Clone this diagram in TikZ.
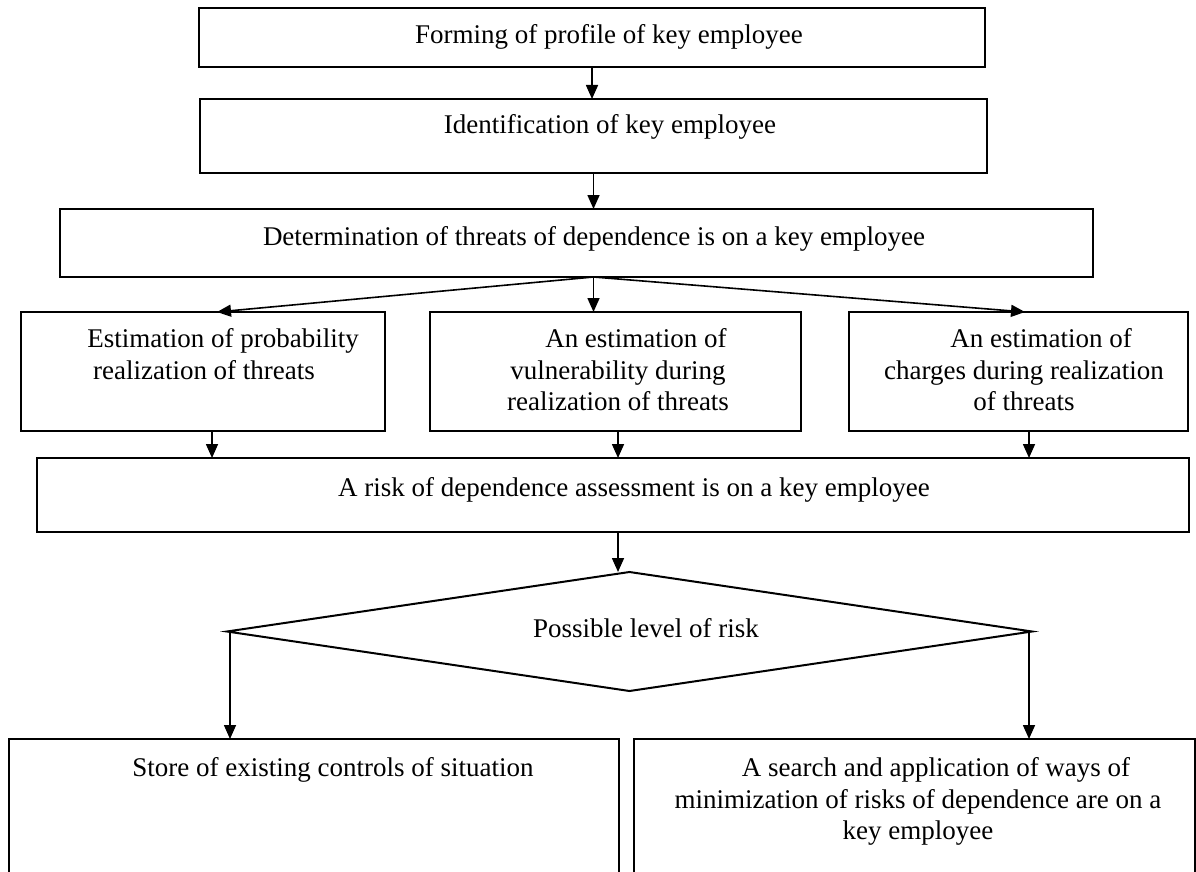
\documentclass[tikz,border=0pt]{standalone}
\usepackage{fontspec}
\setmainfont{Liberation Serif}
\usetikzlibrary{shapes.geometric,arrows.meta}
\tikzset{
  box/.style={draw=black, line width=2pt, rectangle, inner sep=0pt, outer sep=0pt},
  decide/.style={draw=black, line width=2pt, diamond, inner sep=0pt, outer sep=0pt},
  lbl/.style={inner sep=0pt, anchor=north, align=center, font=\fontsize{27}{31.5}\selectfont},
  arr/.style={line width=1.6pt, -{Triangle[length=14pt,width=12pt]}}
}
\begin{document}
\begin{tikzpicture}[x=1pt,y=-1pt]
\useasboundingbox (0,0) rectangle (1196,872);
\fill[white] (0,0) rectangle (1196,872);
% boxes
\node[box, minimum width=786pt, minimum height=59pt] (b1) at (592,37.5) {};
\node[box, minimum width=787pt, minimum height=74pt] (b2) at (593.5,136) {};
\node[box, minimum width=1033pt, minimum height=68pt] (b3) at (576.5,243) {};
\node[box, minimum width=364pt, minimum height=119pt] (b4a) at (203,371.5) {};
\node[box, minimum width=371pt, minimum height=119pt] (b4b) at (615.5,371.5) {};
\node[box, minimum width=339pt, minimum height=119pt] (b4c) at (1018.5,371.5) {};
\node[box, minimum width=1152pt, minimum height=74pt] (b5) at (613,495) {};
\node[decide, minimum width=805pt, minimum height=119pt] (d) at (629.5,631.5) {};
\node[box, minimum width=610pt, minimum height=161pt] (b6a) at (314,819.5) {};
\node[box, minimum width=561pt, minimum height=161pt] (b6b) at (914.5,819.5) {};
% texts
\node[lbl] (t1) at (609,24.5) {Forming of profile of key employee};
\node[lbl] (t2) at (610,114.5) {Identification of key employee};
\node[lbl] (t3) at (594,226.5) {Determination of threats of dependence is on a key employee};
\node[lbl] (t4a) at (204,328.5) {\hspace*{38pt}Estimation of probability\\realization of threats};
\node[lbl] (t4b) at (618,328.5) {\hspace*{36pt}An estimation of\\vulnerability during\\realization of threats};
\node[lbl] (t4c) at (1024,328.5) {\hspace*{34pt}An estimation of\\charges during realization\\of threats};
\node[lbl] (t5) at (634,477.5) {A risk of dependence assessment is on a key employee};
\node[lbl] (td) at (646,618.5) {Possible level of risk};
\node[lbl] (t6a) at (333,757.5) {Store of existing controls of situation};
\node[lbl] (t6b) at (918,757.5) {\hspace*{36pt}A search and application of ways of\\minimization of risks of dependence are on a\\key employee};
% connectors
\draw[arr] (b1.south) -- (b1.south |- b2.north);
\draw[arr] (b2.south) -- (b2.south |- b3.north);
\draw[arr] (b3.south -| b2.south) -- ([xshift=14pt]b4a.north);
\draw[arr] (b3.south -| b2.south) -- (b4b.north -| b2.south);
\draw[arr] (b3.south -| b2.south) -- ([xshift=6.5pt]b4c.north);
\draw[arr] ([xshift=9pt]b4a.south) -- ([xshift=9pt]b4a.south |- b5.north);
\draw[arr] ([xshift=2.5pt]b4b.south) -- ([xshift=2.5pt]b4b.south |- b5.north);
\draw[arr] ([xshift=10.5pt]b4c.south) -- ([xshift=10.5pt]b4c.south |- b5.north);
\draw[arr] ([xshift=5pt]b5.south) -- ([xshift=5pt]b5.south |- d.north);
\draw[arr] ([xshift=3pt]d.west) -- ([xshift=3pt]d.west |- b6a.north);
\draw[arr] ([xshift=-3pt]d.east) -- ([xshift=-3pt]d.east |- b6b.north);
\end{tikzpicture}
\end{document}
